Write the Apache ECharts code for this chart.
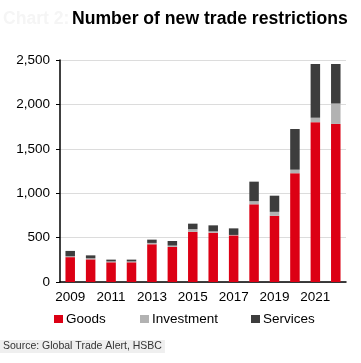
<!DOCTYPE html>
<html><head><meta charset="utf-8">
<script src="https://cdn.jsdelivr.net/npm/echarts@6/dist/echarts.min.js"></script>
<style>html,body{margin:0;padding:0;background:#fff}#c{width:361px;height:363px}</style>
</head><body><div id="c"></div>
<script>
const years = ['2009','2010','2011','2012','2013','2014','2015','2016','2017','2018','2019','2020','2021','2022'];
const goods      = [280, 255, 222, 222, 425, 395, 565, 555, 525, 875, 745, 1225, 1800, 1780];
const investment = [10, 12, 10, 10, 15, 15, 30, 15, 5, 35, 45, 40, 50, 230];
const services   = [60, 33, 20, 20, 37, 52, 62, 68, 74, 220, 182, 458, 605, 445];
const yTicks = [0, 500, 1000, 1500, 2000, 2500];

const font = 'Liberation Sans, Arial, sans-serif';
const chart = echarts.init(document.getElementById('c'), null, {renderer:'canvas'});
const mk = (name, data, color) => ({
  name, type:'bar', stack:'t', data, barWidth:9.5,
  itemStyle:{color}, emphasis:{disabled:true}
});
const legendBase = (name, left) => ({
  data:[name], left, top:312, itemWidth:9, itemHeight:8, itemGap:0,
  icon:'rect', textStyle:{fontFamily:font, fontSize:13.5, color:'#000', padding:[0,0,0,-2]},
  padding:0
});
chart.setOption({
  animation:false,
  title:[
    {text:'Number of new trade restrictions', left:72, top:10, padding:0,
     textStyle:{fontFamily:font, fontSize:17.6, fontWeight:'bold', color:'#000'}},
    {text:'Chart 2:', left:3, top:10, padding:0,
     textStyle:{fontFamily:font, fontSize:17.6, fontWeight:'bold', color:'#f5f5f5'}},
    {text:'Source: Global Trade Alert, HSBC', left:0, top:340,
     backgroundColor:'#efefef', padding:[1,3,1,3],
     textStyle:{fontFamily:font, fontSize:10.5, fontWeight:'normal', color:'#333'}}
  ],
  legend:[legendBase('Goods',54), legendBase('Investment',140), legendBase('Services',251)],
  grid:{left:60, right:15, top:60, bottom:81},
  xAxis:{
    type:'category', data:years, boundaryGap:true,
    axisLine:{lineStyle:{color:'#000', width:1.5}},
    axisTick:{interval:1, length:5, inside:false, lineStyle:{color:'#000', width:1.5}},
    axisLabel:{interval:1, fontFamily:font, fontSize:13.5, color:'#000', margin:8}
  },
  yAxis:{
    type:'value', min:yTicks[0], max:yTicks[yTicks.length-1], interval:500,
    axisLine:{show:true, lineStyle:{color:'#000', width:1.5}},
    axisTick:{show:true, length:4, lineStyle:{color:'#000'}},
    axisLabel:{fontFamily:font, fontSize:13.5, color:'#000', margin:10,
      formatter:v=>v.toLocaleString('en-US')},
    splitLine:{lineStyle:{color:'#dcdcdc', width:1}}
  },
  series:[
    mk('Goods', goods, '#dc0014'),
    mk('Investment', investment, '#b2b2b2'),
    mk('Services', services, '#3d3d3d')
  ]
});
</script></body></html>
